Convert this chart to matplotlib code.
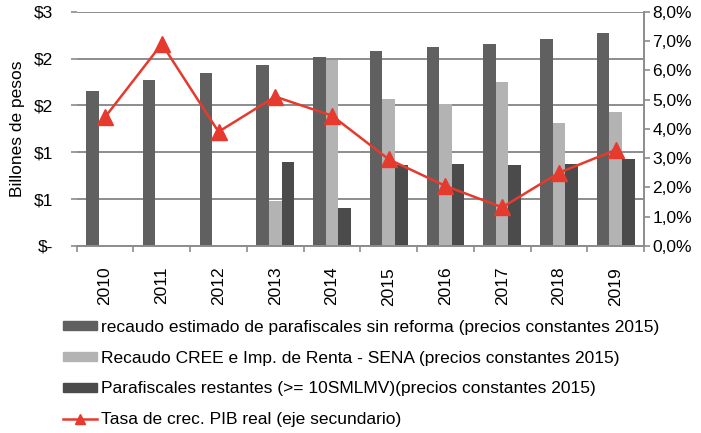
import numpy as np
import matplotlib.pyplot as plt
from matplotlib.lines import Line2D
from matplotlib.patches import Patch

plt.rcParams['font.family'] = ['Liberation Sans', 'DejaVu Sans']

years = ['2010', '2011', '2012', '2013', '2014', '2015', '2016', '2017', '2018', '2019']
# billones de pesos (precios constantes 2015)
sin_reforma = [1.99, 2.13, 2.22, 2.32, 2.42, 2.50, 2.55, 2.59, 2.65, 2.73]
cree_sena = [0, 0, 0, 0.57, 2.38, 1.88, 1.82, 2.10, 1.58, 1.72]
restantes = [0, 0, 0, 1.07, 0.48, 1.04, 1.05, 1.04, 1.05, 1.11]
# tasa de crecimiento PIB real (%)
pib = [4.4, 6.9, 3.9, 5.1, 4.45, 2.96, 2.05, 1.32, 2.5, 3.28]

left_ticks = [0, 0.6, 1.2, 1.8, 2.4, 3.0]
left_labels = ['$-', '$1', '$1', '$2', '$2', '$3']
right_ticks = [0, 1, 2, 3, 4, 5, 6, 7, 8]
right_labels = ['0,0%', '1,0%', '2,0%', '3,0%', '4,0%', '5,0%', '6,0%', '7,0%', '8,0%']

series_names = [
    'recaudo estimado de parafiscales sin reforma (precios constantes 2015)',
    'Recaudo CREE e Imp. de Renta - SENA (precios constantes 2015)',
    'Parafiscales restantes (>= 10SMLMV)(precios constantes 2015)',
    'Tasa de crec. PIB real (eje secundario)',
]
colors = ['#606060', '#b3b3b3', '#4b4b4b']
red = '#e63a2e'
grid_col = '#8c8c8c'
fs = 12.5

fig = plt.figure(figsize=(7.01, 4.33), dpi=100)
ax = fig.add_axes([0.1094, 0.4319, 0.8093, 0.5411])

x = np.arange(len(years))
w = 0.222
for i, vals in enumerate([sin_reforma, cree_sena, restantes]):
    ax.bar(x + (i - 1) * w, vals, width=w, color=colors[i], zorder=2)

ax.set_xlim(-0.5, len(years) - 0.5)
ax.set_ylim(0, 3.0)
ax.set_yticks(left_ticks)
ax.set_yticklabels(left_labels)
ax.grid(axis='y', color=grid_col, linewidth=1.4, zorder=0)
ax.set_axisbelow(True)
ax.set_xticks(x)
ax.set_xticklabels(years, rotation=90)
ax.set_xticks(np.arange(len(years) + 1) - 0.5, minor=True)
ax.tick_params(axis='x', which='major', length=0, pad=15, labelsize=fs)
ax.tick_params(axis='x', which='minor', length=4, color=grid_col, width=1.2)
ax.tick_params(axis='y', length=4, color=grid_col, width=1.2, pad=13, labelsize=fs)
for s in ['left', 'top', 'right']:
    ax.spines[s].set_visible(False)
ax.spines['bottom'].set_color(grid_col)
ax.spines['bottom'].set_linewidth(1.4)
ax.set_ylabel('Billones de pesos', fontsize=fs)
ax.yaxis.set_label_coords(-0.091, 0.5)

ax2 = ax.twinx()
ax2.plot(x, pib, color=red, linewidth=1.8, marker='^', markersize=11, zorder=3)
ax2.set_ylim(0, 8)
ax2.set_yticks(right_ticks)
ax2.set_yticklabels(right_labels)
ax2.tick_params(axis='y', length=4, color=grid_col, width=1.2, pad=2, labelsize=fs)
for s in ['left', 'top', 'bottom']:
    ax2.spines[s].set_visible(False)
ax2.spines['right'].set_color(grid_col)
ax2.spines['right'].set_linewidth(1.4)

handles = [Patch(color=c) for c in colors]
handles.append(Line2D([], [], color=red, linewidth=1.8, marker='^', markersize=7))
fig.legend(handles, series_names, loc='upper left', bbox_to_anchor=(0.0894, 0.262),
           frameon=False, fontsize=fs, handlelength=2.0, handleheight=0.46,
           handletextpad=0.23, labelspacing=0.92, borderaxespad=0, borderpad=0)

fig.savefig('out.png', dpi=100)
